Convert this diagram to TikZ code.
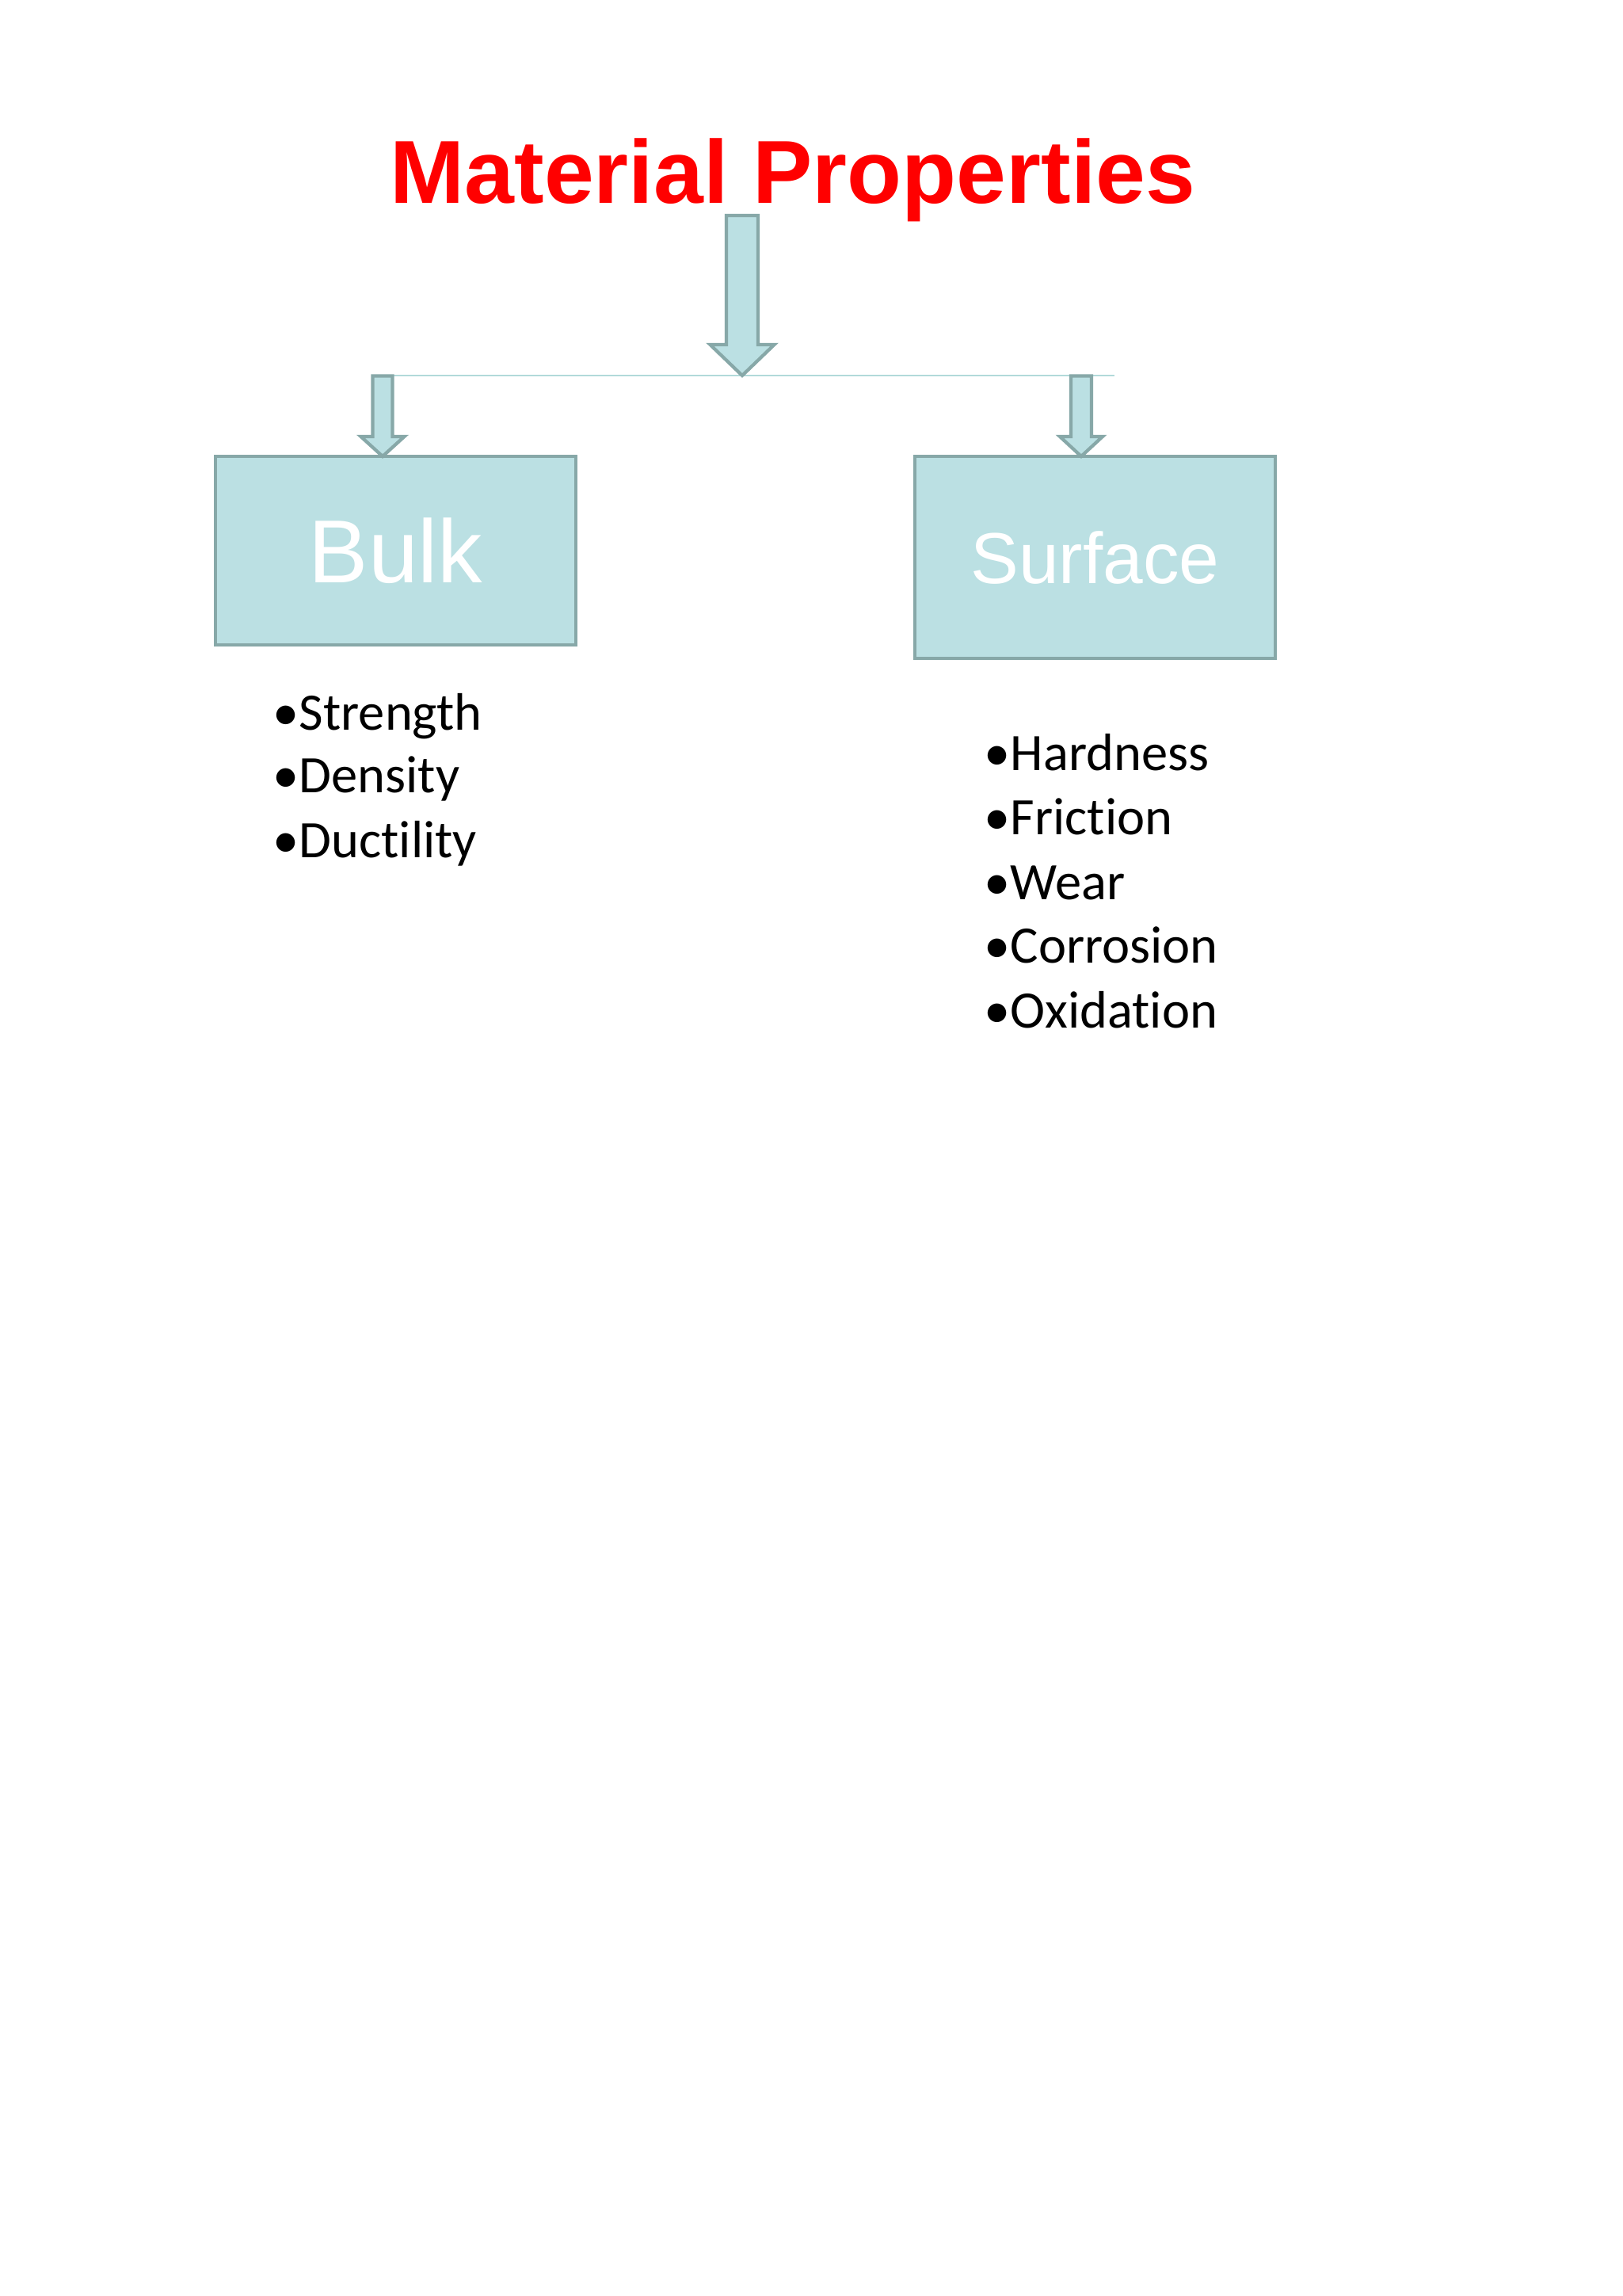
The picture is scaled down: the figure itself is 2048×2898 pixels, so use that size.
\documentclass[tikz,border=0pt]{standalone}
\usepackage{fontspec}
\setmainfont{Liberation Sans}
\newfontfamily\calib[Ligatures={NoCommon,NoRequired,NoContextual},RawFeature={-liga;-dlig;-clig}]{Carlito}
\definecolor{boxfill}{HTML}{BBE0E3}
\definecolor{boxline}{HTML}{87A8A8}
\definecolor{paleline}{HTML}{B2DADA}
\definecolor{titlered}{HTML}{FF0000}
\tikzset{
  catbox/.style={draw=boxline, fill=boxfill, line width=1.25pt, text=white, inner sep=0pt, minimum width=4.55cm},
  blockarr/.style={draw=boxline, fill=boxfill, line width=1.2pt, line join=miter},
  bulletline/.style={anchor=base west, inner sep=0pt, font=\calib\fontsize{18.9pt}{23pt}\selectfont},
  titletext/.style={anchor=base, inner sep=0pt, text=titlered, font=\fontsize{32.1pt}{38pt}\selectfont\bfseries}
}
% down block arrow: #1 centre x, #2 top y, #3 tip y, #4 shaft half width, #5 head half width, #6 head length
\newcommand{\downblock}[6]{%
  \draw[blockarr] (#1-#4,#2) -- (#1+#4,#2) -- (#1+#4,#3-#6) -- (#1+#5,#3-#6) -- (#1,#3)
    -- (#1-#5,#3-#6) -- (#1-#4,#3-#6) -- cycle;}
\begin{document}
\begin{tikzpicture}[x=0.01cm, y=-0.01cm]
  \fill[white] (0,0) rectangle (2048,2898);
  \useasboundingbox (0,0) rectangle (2048,2898);

  % title
  \node[titletext] (title) at (1001,257) {Material Properties};

  % boxes
  \node[catbox, minimum height=2.38cm, font=\fontsize{32.1pt}{38pt}\selectfont] (bulk) at (499.5,695) {Bulk};
  \node[catbox, minimum height=2.55cm, font=\fontsize{25.9pt}{31pt}\selectfont] (surface) at (1382.5,703.5) {Surface};

  % branch line
  \coordinate (branchL) at (497,474);
  \coordinate (branchR) at (1407,474);
  \draw[paleline, line width=0.6pt] (branchL) -- (branchR);

  % arrows
  \downblock{937}{272}{474}{20}{40.5}{39}
  \downblock{483}{474.5}{576}{12.5}{27.5}{25}
  \downblock{1365}{474.5}{576}{13}{27}{25}

  % bulk list
  \node[bulletline] (b1) at (344,922) {•Strength};
  \node[bulletline] (b2) at (344,1001) {•Density};
  \node[bulletline] (b3) at (344,1082) {•Ductility};

  % surface list
  \node[bulletline] (s1) at (1242,972) {•Hardness};
  \node[bulletline] (s2) at (1242,1053) {•Friction};
  \node[bulletline] (s3) at (1242,1135) {•Wear};
  \node[bulletline] (s4) at (1242,1215) {•Corrosion};
  \node[bulletline] (s5) at (1242,1297) {•Oxidation};
\end{tikzpicture}
\end{document}
